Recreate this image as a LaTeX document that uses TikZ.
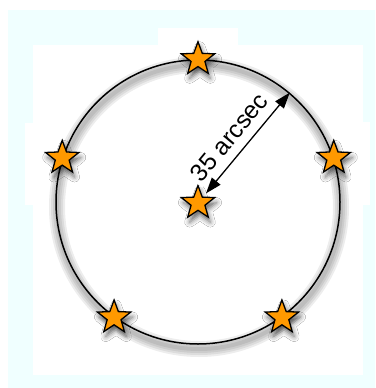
\documentclass[tikz,border=0pt]{standalone}
\usepackage{fontspec}
\setmainfont{Liberation Sans}
\usetikzlibrary{shapes.geometric,arrows.meta,shadows.blur}
\definecolor{paleCyan}{HTML}{F0FFFF}
\definecolor{starOrange}{HTML}{FF9900}

\begin{document}
\begin{tikzpicture}[
    x=1pt, y=-1pt,
    >={Triangle[length=16pt,width=11pt]},
    every node/.style={font=\fontsize{24.5}{28}\selectfont},
    starnode/.style={star, star points=5, star point ratio=2.4,
        minimum size=35pt, inner sep=0pt, draw, line width=1.3pt,
        fill=starOrange,
        blur shadow={shadow xshift=2pt, shadow yshift=-5pt,
            shadow blur radius=5pt, shadow opacity=60}}
]
\useasboundingbox (0,0) rectangle (375,388);

% background
\fill[paleCyan] (8,10) rectangle (375,388);
\fill[white] (33,45) rectangle (363,375);
\fill[white] (158,28) rectangle (238,45);
\fill[white] (25,123) rectangle (33,205);
\fill[white] (363,122) rectangle (370,205);

% soft shadow of the ring
\foreach \w in {16,12,8,4}
    \draw[black, opacity=0.07, line width=\w pt] (199,207) circle (142);

\node[circle, draw, line width=1.5pt, minimum size=284pt, inner sep=0pt] (ring) at (198,202) {};

\node[starnode] (mid) at (198,203) {};

\foreach \a [count=\i] in {90,162,234,306,18}
    \node[starnode] (s\i) at (ring.\a) {};

\draw[<->, line width=1.3pt, shorten <=4pt] (mid) -- (ring.50)
    node[pos=0.46, sloped, above=6pt, fill=white, inner sep=3pt] (lbl) {35 arcsec};

\end{tikzpicture}
\end{document}
